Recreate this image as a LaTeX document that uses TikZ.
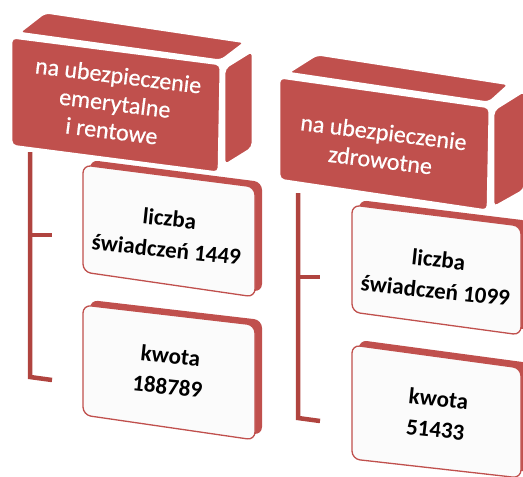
\documentclass[tikz,border=0pt]{standalone}
\usepackage{fontspec}
\setmainfont{Carlito}
\newfontfamily\hdrfont[FakeBold=0.6]{Carlito}
\definecolor{hdr}{HTML}{C0504D}
\definecolor{brk}{HTML}{B0443F}
\definecolor{facefill}{HTML}{FBFBFB}
\tikzset{
 hface/.style={fill=hdr, draw=white, line width=2.8pt, rounded corners=5pt},
 cback/.style={fill=hdr, draw=none, rounded corners=8pt},
 cface/.style={fill=facefill, draw=hdr, line width=1.3pt, rounded corners=8pt},
 htext/.style={text=white, font=\hdrfont\fontsize{24}{28}\selectfont, align=center, rotate=-7, inner sep=0pt},
 ctext/.style={text=black, font=\bfseries\fontsize{23}{31}\selectfont, align=center, rotate=-6, inner sep=0pt},
 brack/.style={draw=brk, line width=4.5pt}
}
\begin{document}
\begin{tikzpicture}[x=1pt,y=-1pt]
\useasboundingbox (0,0) rectangle (523,477);
% brackets
\coordinate (la) at (30,152);
\coordinate (lm) at (52,235);
\coordinate (lc) at (30,377);
\coordinate (lb) at (52,380);
\coordinate (ra) at (298,193);
\coordinate (rm) at (320,277);
\coordinate (rc) at (298,418);
\coordinate (rb) at (320,421);
\draw[brack] (la) -- (lc) -- (lb);
\draw[brack] (la |- lm) -- (lm);
\draw[brack] (ra) -- (rc) -- (rb);
\draw[brack] (ra |- rm) -- (rm);
% left header
\draw[hface] (18,33) -- (45,12) -- (246,42) -- (221,61) -- cycle;
\draw[hface] (224,68) -- (253,50) -- (253,148) -- (224,166) -- cycle;
\draw[hface] (11,37) -- (221,64) -- (219,173) -- (11,146) -- cycle;
\node[htext] (h1) at (115,103) {na ubezpieczenie\\emerytalne\\i rentowe};
% right header
\draw[hface] (287,73) -- (317,54) -- (510,84) -- (489,103) -- cycle;
\draw[hface] (493,110) -- (525,90) -- (525,190) -- (493,208) -- cycle;
\draw[hface] (279,77) -- (490,107) -- (488,211) -- (279,180) -- cycle;
\node[htext] (h2) at (382,146) {na ubezpieczenie\\zdrowotne};
% left children
\fill[cback] (90,160) -- (262,182) -- (262,292) -- (90,267) -- cycle;
\draw[cface] (83,165) -- (255,187) -- (255,297) -- (83,272) -- cycle;
\node[ctext] (c1) at (168,234) {liczba\\świadczeń 1449};
\fill[cback] (90,300) -- (262,320) -- (262,435) -- (90,410) -- cycle;
\draw[cface] (83,305) -- (255,325) -- (255,440) -- (83,415) -- cycle;
\node[ctext] (c2) at (169,371) {kwota\\188789};
% right children
\fill[cback] (359,200) -- (530,221) -- (530,330) -- (359,307) -- cycle;
\draw[cface] (352,205) -- (521,226) -- (521,335) -- (352,312) -- cycle;
\node[ctext] (c3) at (437,275) {liczba\\świadczeń 1099};
\fill[cback] (359,340) -- (530,363) -- (530,472) -- (359,453) -- cycle;
\draw[cface] (352,345) -- (521,368) -- (521,478) -- (352,459) -- cycle;
\node[ctext] (c4) at (437,414) {kwota\\51433};
\end{tikzpicture}
\end{document}
